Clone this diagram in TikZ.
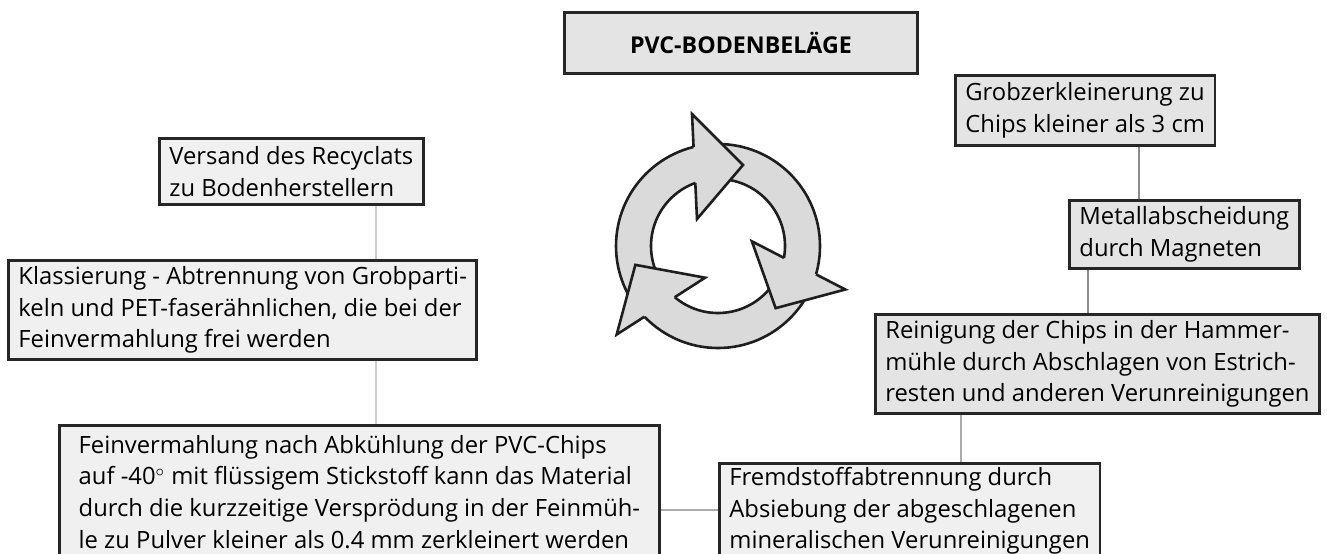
\documentclass[tikz,border=0pt]{standalone}
\usepackage{fontspec}
\setmainfont{Open Sans}
\usetikzlibrary{calc}
\definecolor{boxline}{HTML}{262626}
\definecolor{boxdark}{HTML}{E4E4E4}
\definecolor{boxpale}{HTML}{F0F0F0}
\definecolor{ringfill}{HTML}{DADADA}
\definecolor{ringline}{HTML}{1E1E1E}
\definecolor{linkdark}{HTML}{8C8C8C}
\definecolor{linkmid}{HTML}{ABABAB}
\definecolor{linkpale}{HTML}{CFCFCF}
\tikzset{
	stage/.style={draw=boxline, line width=1.4pt, fill=boxpale, anchor=north west,
		inner xsep=5pt, inner ysep=0pt, align=left, font=\fontsize{11.9}{15.8}\selectfont},
	link/.style={line width=1pt},
}

\begin{document}
\begin{tikzpicture}[x=0.5pt,y=-0.5pt]
	\useasboundingbox (0,0) rectangle (1327,553);
	\node[stage, fill=boxdark, align=center, minimum width=176.5pt, minimum height=30.5pt, font=\fontsize{11.6}{15.8}\selectfont\bfseries] (title) at (563,11) {PVC-BODENBELÄGE};
	\node[stage, fill=boxdark, minimum height=35pt] (grob) at (954,74) {Grobzerkleinerung zu\\Chips kleiner als 3 cm};
	\node[stage, fill=boxdark, minimum height=34pt] (metall) at (1068,199) {Metallabscheidung\\durch Magneten};
	\node[stage, fill=boxdark, minimum height=49.5pt] (rein) at (874,313) {Reinigung der Chips in der Hammer-\\mühle durch Abschlagen von Estrich-\\resten und anderen Verunreinigungen};
	\node[stage, minimum height=47.5pt] (fremd) at (718,462) {Fremdstoffabtrennung durch\\Absiebung der abgeschlagenen\\mineralischen Verunreinigungen};
	\node[stage, minimum width=300pt, minimum height=66.5pt] (feinv) at (58,424) {Feinvermahlung nach Abkühlung der PVC-Chips\\auf -40$^\circ$ mit flüssigem Stickstoff kann das Material\\durch die kurzzeitige Versprödung in der Feinmüh-\\le zu Pulver kleiner als 0.4 mm zerkleinert werden};
	\node[stage, minimum height=49.5pt] (klass) at (7,259) {Klassierung - Abtrennung von Grobparti-\\keln und PET-faserähnlichen, die bei der\\Feinvermahlung frei werden};
	\node[stage, minimum height=33pt] (versand) at (158,137) {Versand des Recyclats\\zu Bodenherstellern};

	\coordinate (gm) at (1139,0);
	\coordinate (mr) at (1088,0);
	\coordinate (rf) at (961,0);
	\coordinate (fk) at (376,0);
	\coordinate (ff) at (0,510);
	\draw[link, linkdark] (grob.south -| gm) -- (metall.north -| gm);
	\draw[link, linkdark] (metall.south -| mr) -- (rein.north -| mr);
	\draw[link, linkmid] (rein.south -| rf) -- (fremd.north -| rf);
	\draw[link, linkmid] (fremd.west |- ff) -- (feinv.east |- ff);
	\draw[link, linkpale] (feinv.north -| fk) -- (klass.south -| fk);
	\draw[link, linkpale] (klass.north -| fk) -- (versand.south -| fk);

	\begin{scope}[shift={(718,246)}, yscale=-1]
		\path[draw=ringline, fill=ringfill, line width=1.3pt, even odd rule] (0,0) circle[radius=102] (0,0) circle[radius=67];
		\foreach \turn in {0,-120,-240}{
			\begin{scope}[rotate=\turn]
				\coordinate (hA) at (-26,132);
				\coordinate (hB) at (-21,27);
				\coordinate (hT) at (25,81);
				\fill[ringfill] (hA) -- (hT) -- (hB) -- cycle;
				\draw[ringline, line width=1.3pt, line join=miter] ($(hA)!0.314!(hB)$) -- (hA) -- (hT) -- (hB) -- ($(hA)!0.656!(hB)$);
			\end{scope}
		}
	\end{scope}
\end{tikzpicture}
\end{document}
